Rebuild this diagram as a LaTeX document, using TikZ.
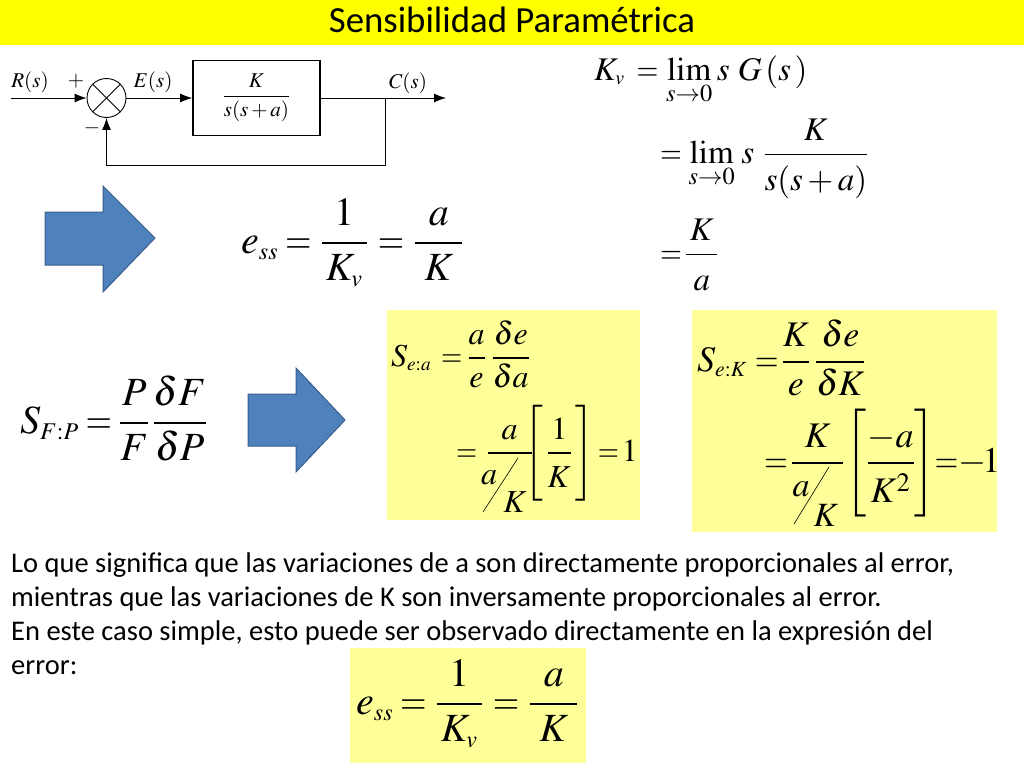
\documentclass[tikz,border=0pt]{standalone}
\usepackage{amsmath}
\usepackage{mathptmx}
\usepackage[no-math]{fontspec}
\setmainfont{Carlito}
\usetikzlibrary{arrows.meta,positioning}
\definecolor{titleyellow}{HTML}{FFFF00}
\definecolor{panelyellow}{HTML}{FFFF99}
\definecolor{arrowblue}{HTML}{4F81BD}
\definecolor{arrowedge}{HTML}{385D8A}
\newcommand{\fsz}[1]{\fontsize{#1}{#1}\selectfont}
\newcommand{\sss}{\scriptscriptstyle}
\newcommand{\gap}[1]{\hspace{#1pt}}
\newcommand{\low}{\rule{0pt}{0.95em}}
\newcommand{\eqs}{\mathord{\scalebox{.85}[1]{$=$}}}
\newcommand{\esseq}{e_{\sss ss}\gap{7}\eqs\gap{9}\dfrac{1}{\gap{4}K_{\sss v}\gap{4}}\gap{10}\eqs\gap{10}\dfrac{a}{\gap{9}K\gap{9}}}
\tikzset{
  eqn/.style={anchor=base west,inner sep=0pt,font=\fsz{#1}},
  panel/.style={fill=panelyellow,draw=none},
  bigarrow/.style={fill=arrowblue,draw=arrowedge,line width=1pt},
  sig/.style={-{Latex[length=12pt,width=9pt]},line width=0.9pt},
  bl/.style={inner sep=0pt,font=\fsz{21}}
}
\begin{document}
\begin{tikzpicture}[x=1pt,y=-1pt]
  \useasboundingbox (0,0) rectangle (1024,768);
  % title bar
  \fill[titleyellow] (0,0) rectangle (1024,45);
  \node[inner sep=0pt,font=\fsz{36.8}] (title) at (512,20) {Sensibilidad Paramétrica};
  % yellow panels
  \fill[panel] (387,310) rectangle (640,520);
  \fill[panel] (692,310) rectangle (997,532);
  \fill[panel] (350,648) rectangle (586,763);
  % block diagram
  \node[draw,circle,line width=0.9pt,minimum size=39pt,inner sep=0pt] (sum) at (106.5,98) {};
  \draw[line width=0.9pt] (sum.north west) -- (sum.south east);
  \draw[line width=0.9pt] (sum.north east) -- (sum.south west);
  \node[draw,line width=1.6pt,minimum width=127pt,minimum height=75pt,inner sep=0pt,font=\fsz{21}] (plant) at (256.5,98)
    {$\dfrac{K}{s(s+a)}$};
  \coordinate (in) at (11,98);
  \coordinate (tap) at (385,98);
  \coordinate (out) at (446,98);
  \coordinate (back) at (385,165);
  \coordinate (under) at (106.5,165);
  \draw[sig] (in) -- (sum);
  \draw[sig] (sum) -- (plant);
  \draw[sig] (plant) -- (out);
  \draw[sig] (tap) -- (back) -- (under) -- (sum);
  \node[bl] (rlabel) at (30,82) {$R(s)$};
  \node[bl] (plus) at (76,81) {$+$};
  \node[bl] (minus) at (92,128) {$-$};
  \node[bl] (elabel) at (153,82) {$E(s)$};
  \node[bl] (clabel) at (408,83) {$C(s)$};
  % block arrows
  \draw[bigarrow] (45,212) -- (103,212) -- (103,186) -- (155,238) -- (103,292) -- (103,265) -- (45,265) -- cycle;
  \draw[bigarrow] (248,394) -- (296,394) -- (296,368) -- (345,420) -- (296,472) -- (296,446) -- (248,446) -- cycle;
  % Kv lines
  \node[eqn=33] (kv1) at (594,80) {$K_{\sss v}\gap{12}\eqs\gap{4}\lim\limits_{s\to 0}\gap{1}s\gap{8}G\,(s\,)$};
  \node[eqn=33] (kv2) at (660,163) {$\eqs\gap{3}\lim\limits_{s\to 0}\gap{3}s\gap{9}\dfrac{K}{s(s+a)\low}$};
  \node[eqn=33] (kv3) at (660,263) {$\eqs\gap{3}\dfrac{\,K\,}{a\low}$};
  % error
  \node[eqn=40] (ess) at (241,253) {$\esseq$};
  \node[eqn=40] (sfp) at (20,433) {$S_{\sss F:P}\gap{7}\eqs\gap{7}\dfrac{P}{F}\gap{3}\dfrac{\delta F}{\delta P}$};
  % panel a
  \node[eqn=32] (sa1) at (391,366) {$S_{\sss e:a}\gap{10}\eqs\gap{5}\dfrac{a}{e}\gap{6}\dfrac{\delta e}{\delta a}$};
  \node[eqn=32] (sa2) at (456,461) {$\eqs\gap{9}\dfrac{a}{\gap{44}\low}\gap{-12}\left[\rule[-34pt]{0pt}{84pt}\,\dfrac{\,1\,}{K\low}\,\right]\gap{0}\eqs\gap{3}1$};
  \node[inner sep=0pt,font=\fsz{32}] (sa) at (489,478) {$a$};
  \node[inner sep=0pt,font=\fsz{32}] (sk) at (515,502) {$K$};
  \coordinate (sas) at (483,512);
  \coordinate (sae) at (518,458);
  \draw[line width=0.6pt] (sas) -- (sae);
  % panel K
  \node[eqn=36] (sk1) at (697,371) {$S_{\sss e:K}\gap{8}\eqs\gap{3}\dfrac{K}{e}\gap{5}\dfrac{\delta e}{\delta K}$};
  \node[eqn=36] (sk2) at (764,472) {$\eqs\gap{3}\dfrac{K}{\gap{51}\low}\gap{-3}\left[\rule[-34pt]{0pt}{90pt}\dfrac{-a}{K^2\low}\right]\gap{-5}\eqs\gap{0}{-}\gap{-4}1$};
  \node[inner sep=0pt,font=\fsz{34}] (ka) at (801,489) {$a$};
  \node[inner sep=0pt,font=\fsz{34}] (kk) at (826,515) {$K$};
  \coordinate (kas) at (794,524);
  \coordinate (kae) at (829,467);
  \draw[line width=0.6pt] (kas) -- (kae);
  % comment text
  \node[anchor=north west,inner sep=0pt,align=left,font=\fontsize{28.5}{34}\selectfont] (note) at (11,552.5)
    {Lo que significa que las variaciones de a son directamente proporcionales al error,\\
     mientras que las variaciones de K son inversamente proporcionales al error.\\
     En este caso simple, esto puede ser observado directamente en la expresión del\\
     error:};
  % bottom formula
  \node[eqn=40] (essb) at (356,714) {$\esseq$};
\end{tikzpicture}
\end{document}
